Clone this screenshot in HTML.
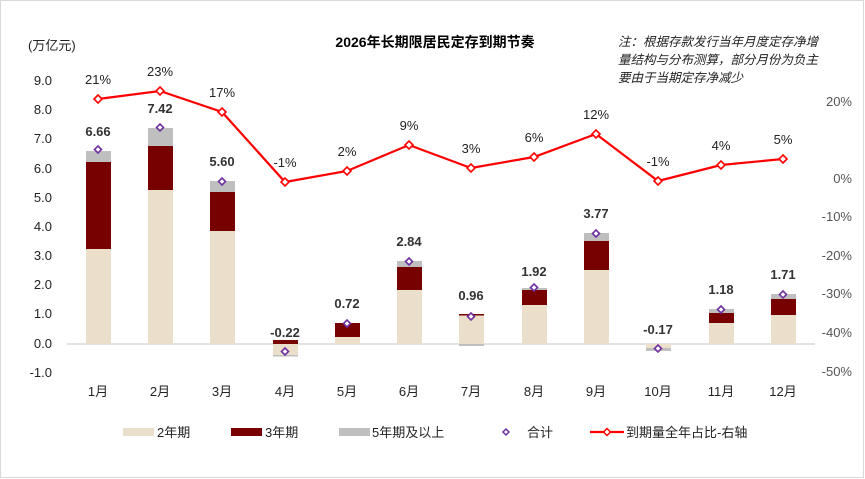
<!DOCTYPE html>
<html><head><meta charset="utf-8"><style>
body{margin:0;background:#fff}
svg{display:block;font-family:"Liberation Sans","Noto Sans CJK SC",sans-serif}
</style></head><body>
<svg width="865" height="479" viewBox="0 0 865 479" xmlns="http://www.w3.org/2000/svg">
<rect x="0.5" y="0.5" width="863" height="477" fill="#fff" stroke="#d9d9d9"/>
<text x="435" y="47" text-anchor="middle" font-size="14" font-weight="bold" fill="#000">2026年长期限居民定存到期节奏</text>
<g font-size="12.5" font-style="italic" fill="#222">
<text x="618" y="46">注：根据存款发行当年月度定存净增</text>
<text x="618" y="64">量结构与分布测算，部分月份为负主</text>
<text x="618" y="82">要由于当期定存净减少</text>
</g>
<text x="28" y="50" font-size="13" fill="#222">(万亿元)</text>
<g font-size="13" fill="#222" text-anchor="end">
<text x="52" y="85">9.0</text><text x="52" y="114">8.0</text><text x="52" y="143">7.0</text><text x="52" y="173">6.0</text><text x="52" y="202">5.0</text><text x="52" y="231">4.0</text><text x="52" y="260">3.0</text><text x="52" y="289">2.0</text><text x="52" y="318">1.0</text><text x="52" y="348">0.0</text><text x="52" y="377">-1.0</text>
</g>
<g font-size="13" fill="#555" text-anchor="end">
<text x="852" y="106">20%</text><text x="852" y="183">0%</text><text x="852" y="221">-10%</text><text x="852" y="260">-20%</text><text x="852" y="298">-30%</text><text x="852" y="337">-40%</text><text x="852" y="376">-50%</text>
</g>
<line x1="67" y1="344" x2="815" y2="344" stroke="#d9d9d9" stroke-width="1.5"/>
<g>
<!-- beige, dark, gray segments -->
<rect x="86" y="249" width="25" height="95" fill="#ebdfcc"/><rect x="86" y="162" width="25" height="87" fill="#770000"/><rect x="86" y="151" width="25" height="11" fill="#bfbfbf"/>
<rect x="148" y="190" width="25" height="154" fill="#ebdfcc"/><rect x="148" y="146" width="25" height="44" fill="#770000"/><rect x="148" y="128" width="25" height="18" fill="#bfbfbf"/>
<rect x="210" y="231" width="25" height="113" fill="#ebdfcc"/><rect x="210" y="192" width="25" height="39" fill="#770000"/><rect x="210" y="181" width="25" height="11" fill="#bfbfbf"/>
<rect x="273" y="344" width="25" height="11" fill="#ebdfcc"/><rect x="273" y="340" width="25" height="4" fill="#770000"/><rect x="273" y="355" width="25" height="1.5" fill="#bfbfbf"/>
<rect x="335" y="337" width="25" height="7" fill="#ebdfcc"/><rect x="335" y="323" width="25" height="14" fill="#770000"/>
<rect x="397" y="290" width="25" height="54" fill="#ebdfcc"/><rect x="397" y="267" width="25" height="23" fill="#770000"/><rect x="397" y="261" width="25" height="6" fill="#bfbfbf"/>
<rect x="459" y="315" width="25" height="29" fill="#ebdfcc"/><rect x="459" y="314" width="25" height="1.5" fill="#770000"/><rect x="459" y="344" width="25" height="2" fill="#bfbfbf"/>
<rect x="522" y="305" width="25" height="39" fill="#ebdfcc"/><rect x="522" y="290" width="25" height="15" fill="#770000"/><rect x="522" y="288" width="25" height="2" fill="#bfbfbf"/>
<rect x="584" y="270" width="25" height="74" fill="#ebdfcc"/><rect x="584" y="241" width="25" height="29" fill="#770000"/><rect x="584" y="233" width="25" height="8" fill="#bfbfbf"/>
<rect x="646" y="344" width="25" height="4" fill="#ebdfcc"/><rect x="646" y="348" width="25" height="3" fill="#bfbfbf"/>
<rect x="709" y="323" width="25" height="21" fill="#ebdfcc"/><rect x="709" y="313" width="25" height="10" fill="#770000"/><rect x="709" y="309" width="25" height="4" fill="#bfbfbf"/>
<rect x="771" y="315" width="25" height="29" fill="#ebdfcc"/><rect x="771" y="299" width="25" height="16" fill="#770000"/><rect x="771" y="294" width="25" height="5" fill="#bfbfbf"/>
</g>
<g fill="#fff" stroke="#7030a0" stroke-width="1.6">
<path d="M98,146l3.5,3.5l-3.5,3.5l-3.5,-3.5z"/><path d="M160,124l3.5,3.5l-3.5,3.5l-3.5,-3.5z"/><path d="M222,178l3.5,3.5l-3.5,3.5l-3.5,-3.5z"/><path d="M285,348l3.5,3.5l-3.5,3.5l-3.5,-3.5z"/><path d="M347,320l3.5,3.5l-3.5,3.5l-3.5,-3.5z"/><path d="M409,258l3.5,3.5l-3.5,3.5l-3.5,-3.5z"/><path d="M471,313l3.5,3.5l-3.5,3.5l-3.5,-3.5z"/><path d="M534,284l3.5,3.5l-3.5,3.5l-3.5,-3.5z"/><path d="M596,230l3.5,3.5l-3.5,3.5l-3.5,-3.5z"/><path d="M658,345l3.5,3.5l-3.5,3.5l-3.5,-3.5z"/><path d="M721,306l3.5,3.5l-3.5,3.5l-3.5,-3.5z"/><path d="M783,291l3.5,3.5l-3.5,3.5l-3.5,-3.5z"/>
</g>
<g font-size="13" font-weight="bold" fill="#333" text-anchor="middle">
<text x="98" y="136">6.66</text><text x="160" y="113">7.42</text><text x="222" y="166">5.60</text><text x="285" y="337">-0.22</text><text x="347" y="308">0.72</text><text x="409" y="246">2.84</text><text x="471" y="300">0.96</text><text x="534" y="276">1.92</text><text x="596" y="218">3.77</text><text x="658" y="334">-0.17</text><text x="721" y="294">1.18</text><text x="783" y="279">1.71</text>
</g>
<polyline points="98,99 160,91 222,112 285,182 347,171 409,145 471,168 534,157 596,134 658,181 721,165 783,159" fill="none" stroke="#ff0000" stroke-width="2.2"/>
<g fill="#fff" stroke="#ff0000" stroke-width="1.6">
<path d="M98,95l4,4l-4,4l-4,-4z"/><path d="M160,87l4,4l-4,4l-4,-4z"/><path d="M222,108l4,4l-4,4l-4,-4z"/><path d="M285,178l4,4l-4,4l-4,-4z"/><path d="M347,167l4,4l-4,4l-4,-4z"/><path d="M409,141l4,4l-4,4l-4,-4z"/><path d="M471,164l4,4l-4,4l-4,-4z"/><path d="M534,153l4,4l-4,4l-4,-4z"/><path d="M596,130l4,4l-4,4l-4,-4z"/><path d="M658,177l4,4l-4,4l-4,-4z"/><path d="M721,161l4,4l-4,4l-4,-4z"/><path d="M783,155l4,4l-4,4l-4,-4z"/>
</g>
<g font-size="13" fill="#222" text-anchor="middle">
<text x="98" y="84">21%</text><text x="160" y="76">23%</text><text x="222" y="97">17%</text><text x="285" y="167">-1%</text><text x="347" y="156">2%</text><text x="409" y="130">9%</text><text x="471" y="153">3%</text><text x="534" y="142">6%</text><text x="596" y="119">12%</text><text x="658" y="166">-1%</text><text x="721" y="150">4%</text><text x="783" y="144">5%</text>
</g>
<g font-size="13" fill="#222" text-anchor="middle">
<text x="98" y="396">1月</text><text x="160" y="396">2月</text><text x="222" y="396">3月</text><text x="285" y="396">4月</text><text x="347" y="396">5月</text><text x="409" y="396">6月</text><text x="471" y="396">7月</text><text x="534" y="396">8月</text><text x="596" y="396">9月</text><text x="658" y="396">10月</text><text x="721" y="396">11月</text><text x="783" y="396">12月</text>
</g>
<g font-size="13" fill="#222">
<rect x="123" y="428" width="31" height="8" fill="#ebdfcc"/><text x="157" y="437">2年期</text>
<rect x="231" y="428" width="31" height="8" fill="#770000"/><text x="265" y="437">3年期</text>
<rect x="339" y="428" width="31" height="8" fill="#bfbfbf"/><text x="372" y="437">5年期及以上</text>
<path d="M506,429l3,3l-3,3l-3,-3z" fill="#fff" stroke="#7030a0" stroke-width="1.5"/><text x="527" y="437">合计</text>
<line x1="590" y1="432" x2="624" y2="432" stroke="#ff0000" stroke-width="2.2"/><path d="M607,428.5l3.5,3.5l-3.5,3.5l-3.5,-3.5z" fill="#fff" stroke="#ff0000" stroke-width="1.5"/><text x="626" y="437">到期量全年占比-右轴</text>
</g>
</svg>
</body></html>
